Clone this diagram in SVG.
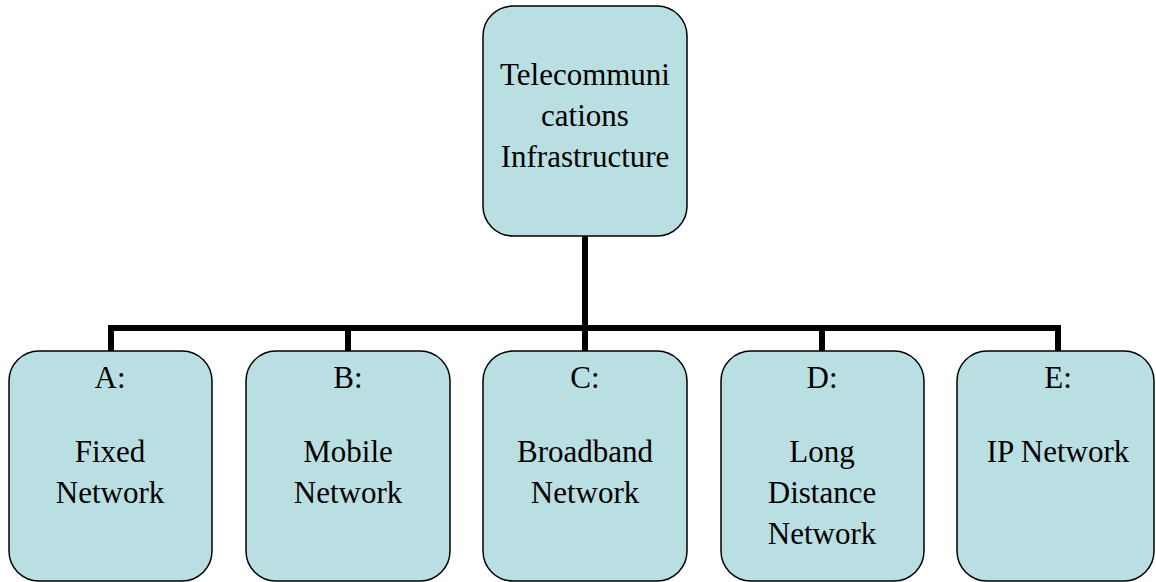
<svg xmlns="http://www.w3.org/2000/svg" width="1156" height="582" viewBox="0 0 1156 582">
  <style>
    .box { fill: #badfe3; stroke: #000; stroke-width: 1.5; }
    .lbl { font-family: "Liberation Serif", "Times New Roman", serif; font-size: 31px; fill: #000; text-anchor: middle; }
    .wire { fill: none; stroke: #000; stroke-width: 6; }
  </style>
  <rect width="1156" height="582" fill="#fff"/>

  <!-- tree connectors -->
  <g id="connectors">
    <path class="wire" d="M585 236 V328 M111 351 V328 H1058 V351 M348 328 V351 M585 328 V351 M822 328 V351"/>
  </g>

  <g id="root">
    <rect class="box" x="483" y="6" width="204" height="230" rx="30"/>
    <text class="lbl" x="585" y="85">Telecommuni</text>
    <text class="lbl" x="585" y="126">cations</text>
    <text class="lbl" x="585" y="167">Infrastructure</text>
  </g>

  <g id="nodeA">
    <rect class="box" x="9" y="351" width="203" height="230" rx="30"/>
    <text class="lbl" x="110" y="388">A:</text>
    <text class="lbl" x="110" y="462">Fixed</text>
    <text class="lbl" x="110" y="503">Network</text>
  </g>

  <g id="nodeB">
    <rect class="box" x="246" y="351" width="204" height="230" rx="30"/>
    <text class="lbl" x="348" y="388">B:</text>
    <text class="lbl" x="348" y="462">Mobile</text>
    <text class="lbl" x="348" y="503">Network</text>
  </g>

  <g id="nodeC">
    <rect class="box" x="483" y="351" width="204" height="230" rx="30"/>
    <text class="lbl" x="585" y="388">C:</text>
    <text class="lbl" x="585" y="462">Broadband</text>
    <text class="lbl" x="585" y="503">Network</text>
  </g>

  <g id="nodeD">
    <rect class="box" x="721" y="351" width="203" height="230" rx="30"/>
    <text class="lbl" x="822" y="388">D:</text>
    <text class="lbl" x="822" y="462">Long</text>
    <text class="lbl" x="822" y="503">Distance</text>
    <text class="lbl" x="822" y="544">Network</text>
  </g>

  <g id="nodeE">
    <rect class="box" x="957" y="351" width="197" height="230" rx="30"/>
    <text class="lbl" x="1058" y="388">E:</text>
    <text class="lbl" x="1058" y="462">IP Network</text>
  </g>
</svg>
